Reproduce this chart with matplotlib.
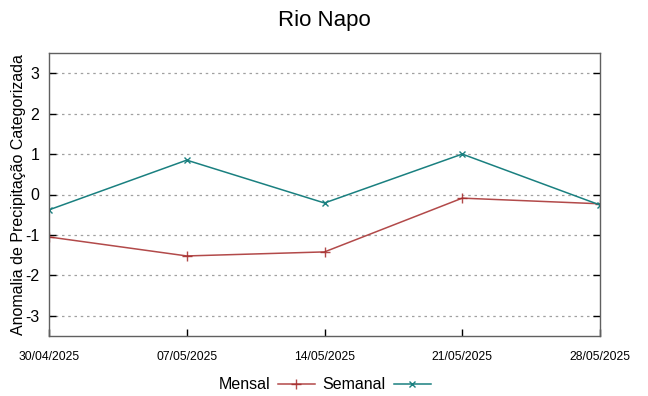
import numpy as np
import matplotlib.pyplot as plt

plt.rcParams['font.family'] = ['Liberation Sans', 'DejaVu Sans']

datas = ['30/04/2025', '07/05/2025', '14/05/2025', '21/05/2025', '28/05/2025']
mensal = [-1.05, -1.52, -1.42, -0.09, -0.23]
semanal = [-0.38, 0.85, -0.21, 1.00, -0.26]
yticks = [-3, -2, -1, 0, 1, 2, 3]

fig = plt.figure(figsize=(6.48, 3.96), dpi=100)
ax = fig.add_axes([49/648, 1-336/396, 551/648, 283/396])

x = np.arange(len(datas))
ax.plot(x, mensal, color='#a52a2a', lw=1.1, marker='+', ms=7, mew=1, label='Mensal', alpha=0.85)
ax.plot(x, semanal, color='#1a8080', lw=1.1, marker='x', ms=5, mew=1, label='Semanal')

ax.set_xlim(0, len(datas)-1)
ax.set_ylim(-3.5, 3.5)
ax.set_xticks(x)
ax.set_xticklabels(datas, fontsize=8.7)
ax.set_yticks(yticks)
ax.set_yticklabels([str(v) for v in yticks], fontsize=11.5)
ax.tick_params(direction='in', top=False, right=True, length=5, width=1, colors='black')
ax.tick_params(axis='x', pad=11)
ax.tick_params(axis='y', pad=7)
for v in yticks:
    ax.axhline(v, color='#a0a0a0', lw=0.9, ls=(0, (2, 3)), zorder=0)
for s in ax.spines.values():
    s.set_color('#606060')
    s.set_linewidth(1)

ax.set_ylabel('Anomalia de Precipitação Categorizada', fontsize=11.5, labelpad=-1)
fig.suptitle('Rio Napo', fontsize=16, y=0.975)

ax.legend(loc='upper center', bbox_to_anchor=(0.5, -0.095), ncol=2, frameon=False,
          markerfirst=False, fontsize=11.5, handlelength=2.3, columnspacing=0.5, handletextpad=0.5)

fig.savefig('out.png', dpi=100)
